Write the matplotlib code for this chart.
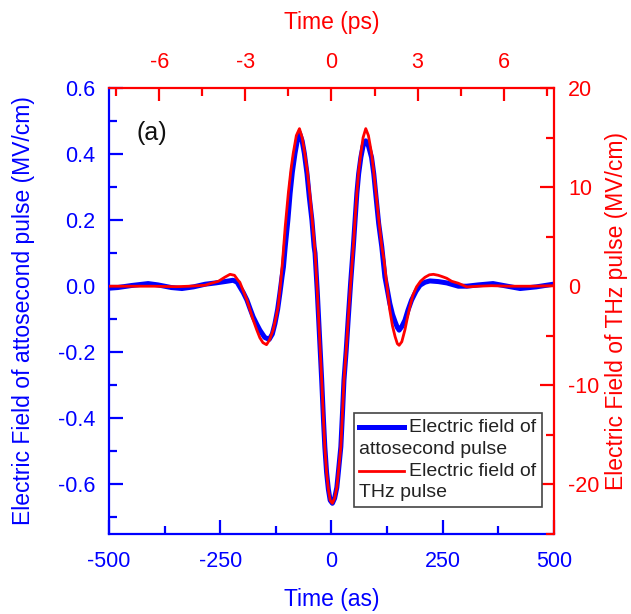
import matplotlib
matplotlib.use("Agg")
import matplotlib.pyplot as plt
from matplotlib.ticker import MultipleLocator
from matplotlib.offsetbox import AnchoredOffsetbox, VPacker, HPacker, TextArea, DrawingArea
from matplotlib.lines import Line2D

plt.rcParams['font.family'] = ['Liberation Sans', 'DejaVu Sans']
plt.rcParams['axes.unicode_minus'] = False

# attosecond pulse field (MV/cm, left axis)
t_atto = [-500, -480, -450, -412, -390, -360, -336, -310, -284, -260, -240, -221, -212,
          -206, -198, -190, -183, -176, -168, -161, -150, -140, -133, -127, -121, -116,
          -111, -108, -104, -98, -93, -88, -82, -77, -72, -66, -61, -55, -50, -44, -39,
          -37, -32, -27, -22, -18, -15, -11, -7, -3, 2, 7, 12, 16, 21, 25, 28, 33, 38,
          43, 49, 53, 57, 61, 66, 71, 77, 83, 90, 95, 100, 106, 113, 116, 120, 126, 131,
          137, 143, 148, 152, 158, 165, 172, 180, 190, 199, 210, 221, 240, 259, 285, 304,
          330, 363, 395, 424, 460, 498]
e_atto = [-0.006, -0.004, 0.002, 0.008, 0.004, -0.004, -0.007, -0.002, 0.006, 0.010, 0.014,
          0.018, 0.012, -0.002, -0.020, -0.042, -0.068, -0.093, -0.115, -0.133, -0.155,
          -0.161, -0.145, -0.113, -0.070, -0.022, 0.030, 0.058, 0.119, 0.200, 0.281, 0.345,
          0.402, 0.440, 0.464, 0.440, 0.402, 0.340, 0.271, 0.200, 0.119, 0.100, -0.015,
          -0.150, -0.285, -0.405, -0.486, -0.564, -0.615, -0.648, -0.657, -0.642, -0.609,
          -0.555, -0.486, -0.375, -0.285, -0.195, -0.090, 0.010, 0.119, 0.200, 0.281,
          0.340, 0.390, 0.425, 0.440, 0.425, 0.390, 0.340, 0.271, 0.190, 0.119, 0.080,
          0.028, -0.015, -0.052, -0.085, -0.108, -0.125, -0.133, -0.122, -0.103, -0.072,
          -0.042, -0.015, 0.003, 0.012, 0.016, 0.014, 0.010, 0.000, 0.000, 0.004, 0.008,
          0.000, -0.007, -0.002, 0.006]

# THz pulse field (MV/cm, right axis)
t_thz = [-500, -450, -400, -350, -320, -300, -284, -270, -254, -240, -228, -218, -210,
         -206, -198, -190, -183, -176, -168, -161, -154, -146, -139, -131, -125, -120,
         -115, -110, -104, -97, -91, -86, -79, -72, -66, -60, -54, -48, -42, -37, -32,
         -27, -22, -18, -15, -11, -7, -3, 2, 7, 12, 16, 21, 25, 28, 33, 38, 43, 49, 53,
         57, 61, 66, 71, 77, 83, 90, 95, 100, 106, 113, 118, 124, 131, 137, 143, 148,
         152, 158, 165, 170, 176, 183, 191, 200, 210, 220, 229, 240, 250, 259, 270, 285,
         304, 330, 360, 400, 450, 500]
e_thz = [0.0, 0.0, 0.0, -0.05, 0.0, 0.05, 0.1, 0.3, 0.5, 0.9, 1.2, 1.1, 0.6, 0.4, -0.5,
         -1.4, -2.4, -3.4, -4.4, -5.2, -5.7, -5.9, -5.4, -4.4, -3.2, -2.1, 0.0, 2.5, 6.0,
         9.4, 11.8, 13.4, 15.2, 15.9, 15.0, 13.4, 11.5, 9.0, 6.0, 3.5, -0.5, -5.0, -9.5,
         -13.5, -16.2, -18.8, -20.5, -21.6, -21.9, -21.4, -20.3, -18.5, -16.2, -12.5,
         -9.5, -6.5, -3.0, 0.3, 4.0, 6.8, 9.4, 11.6, 13.4, 15.0, 15.9, 15.2, 13.4, 11.5,
         9.4, 6.8, 4.0, 2.6, 0.3, -2.4, -4.0, -5.1, -5.8, -5.96, -5.6, -4.4, -3.3, -2.1,
         -0.9, -0.07, 0.5, 0.9, 1.15, 1.2, 1.1, 0.95, 0.8, 0.5, 0.3, -0.07, 0.0, 0.05,
         0.0, 0.0, 0.05]

blue = '#0000ff'
red = '#ff0000'
tick_fs = 15.5
label_fs = 16.5

fig = plt.figure(figsize=(6.31, 6.14), dpi=100)
ax = fig.add_axes([0.1727, 0.1303, 0.7053, 0.7264])
ax2 = ax.twinx()
ax3 = ax.twiny()

ax.plot(t_atto, e_atto, color=blue, lw=3.6, solid_joinstyle='round')
ax2.plot(t_thz, e_thz, color=red, lw=2.0, solid_joinstyle='round')

ax.set_xlim(-500, 500)
ax.set_ylim(-0.75, 0.6)
ax2.set_ylim(-25, 20)
ax3.set_xlim(-7.75, 7.75)

ax.xaxis.set_major_locator(MultipleLocator(250))
ax.xaxis.set_minor_locator(MultipleLocator(125))
ax.yaxis.set_major_locator(MultipleLocator(0.2))
ax.yaxis.set_minor_locator(MultipleLocator(0.1))
ax2.yaxis.set_major_locator(MultipleLocator(10))
ax2.yaxis.set_minor_locator(MultipleLocator(5))
ax3.xaxis.set_major_locator(MultipleLocator(3))
ax3.xaxis.set_minor_locator(MultipleLocator(1.5))

ax.yaxis.set_major_formatter(plt.FuncFormatter(lambda v, p: f"{v:.1f}"))

for s in ['top', 'right']:
    ax.spines[s].set_visible(False)
ax.spines['left'].set_color(blue)
ax.spines['bottom'].set_color(blue)
for s in ['left', 'top', 'bottom']:
    ax2.spines[s].set_visible(False)
ax2.spines['right'].set_color(red)
for s in ['left', 'right', 'bottom']:
    ax3.spines[s].set_visible(False)
ax3.spines['top'].set_color(red)
for a in (ax, ax2, ax3):
    for s in a.spines.values():
        s.set_linewidth(1.6)

ax.tick_params(which='both', direction='in', colors=blue, labelsize=tick_fs,
               top=False, right=False, width=1.6)
ax.tick_params(which='major', length=10, pad=10)
ax.tick_params(axis='x', which='major', pad=12)
ax.tick_params(which='minor', length=6)
ax2.tick_params(which='both', direction='in', colors=red, labelsize=tick_fs, width=1.6)
ax2.tick_params(which='major', length=10, pad=10)
ax2.tick_params(which='minor', length=6)
ax3.tick_params(which='both', direction='in', colors=red, labelsize=tick_fs, width=1.6)
ax3.tick_params(which='major', length=9, pad=11)
ax3.tick_params(which='minor', length=6)

ax.set_xlabel('Time (as)', color=blue, fontsize=label_fs, labelpad=12)
ax.set_ylabel('Electric Field of attosecond pulse (MV/cm)', color=blue,
              fontsize=label_fs, labelpad=16)
ax2.set_ylabel('Electric Field of THz pulse (MV/cm)', color=red,
               fontsize=label_fs, labelpad=4)
ax3.set_xlabel('Time (ps)', color=red, fontsize=label_fs, labelpad=16)

ax3.text(0.061, 0.90, '(a)', transform=ax.transAxes, fontsize=18,
         ha='left', va='center', color='#111111')


# legend with wrapped labels, second line starting under the handle
def legend_row(color, lw, text):
    da = DrawingArea(32, 10, 0, 0)
    da.add_artist(Line2D([0, 32], [5, 5], color=color, lw=lw))
    ta = TextArea(text, textprops=dict(fontsize=14, color='#222222'))
    return HPacker(children=[da, ta], align='center', pad=0, sep=4)


rows = [legend_row(blue, 3.6, 'Electric field of'),
        TextArea('attosecond pulse', textprops=dict(fontsize=14, color='#222222')),
        legend_row(red, 2.0, 'Electric field of'),
        TextArea('THz pulse', textprops=dict(fontsize=14, color='#222222'))]
vp = VPacker(children=rows, align='left', pad=0, sep=3.5)
box = AnchoredOffsetbox(loc='lower right', child=vp, pad=0.4, borderpad=0,
                        frameon=True, bbox_to_anchor=(0.973, 0.0605),
                        bbox_transform=ax.transAxes)
box.patch.set_edgecolor('#444444')
box.patch.set_linewidth(1.2)
ax3.add_artist(box)

fig.savefig('out.png', dpi=100)
